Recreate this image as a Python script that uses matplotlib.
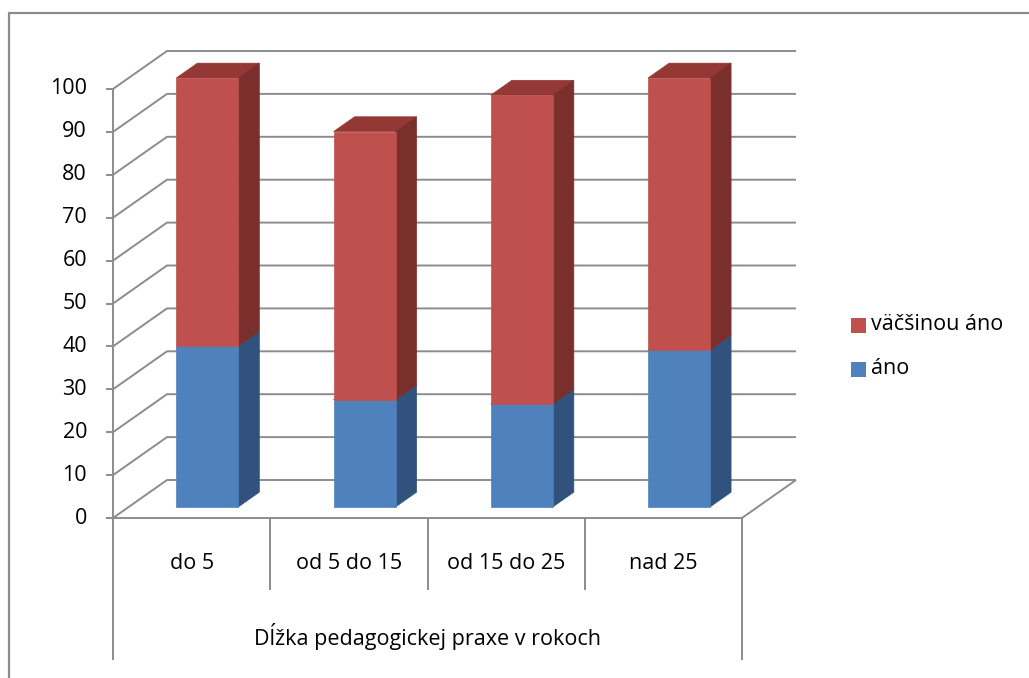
import matplotlib.pyplot as plt
from matplotlib.patches import Polygon
from matplotlib.lines import Line2D

plt.rcParams['font.family'] = ['Open Sans', 'DejaVu Sans']

categories = ['do 5', 'od 5 do 15', 'od 15 do 25', 'nad 25']
ano = [37.5, 25.0, 24.0, 36.6]
vacsinou_ano = [62.5, 62.5, 72.0, 63.4]
series_names = ['áno', 'väčšinou áno']
y_ticks = list(range(0, 101, 10))
axis_title = 'Dĺžka pedagogickej praxe v rokoch'

# face colours: front, side, top
blue = ('#4F81BD', '#31527C', '#3E6797')
red = ('#C0504D', '#7A2F2D', '#943835')
grid_col = '#8C8C8C'
FS = 15.5

# oblique depth offset of the back wall, in data units
DX = 54 / 157.25
DY = 38 / 4.29
Z_FRONT, Z_BACK = 0.29, 0.68
BAR_W = 0.394


def proj(x, y, z):
    return (x + z * DX, y + z * DY)


fig = plt.figure(figsize=(10.29, 6.78), dpi=100)
ax = fig.add_axes([113 / 1029, 160 / 678, 629 / 1029, 429 / 678])
ax.set_xlim(0, len(categories))
ax.set_ylim(0, 100)
ax.axis('off')

n = len(categories)


def line(pts, **kw):
    xs, ys = zip(*pts)
    ax.add_line(Line2D(xs, ys, color=grid_col, lw=1.4, clip_on=False,
                       solid_capstyle='butt', **kw))


# back wall gridlines and side wall diagonals
for v in y_ticks:
    line([proj(0, v, 0), proj(0, v, 1), proj(n, v, 1)], zorder=1)
    line([(-0.045, v), (0, v)], zorder=1)
    ax.text(-0.165, v, str(v), ha='right', va='center', fontsize=FS,
            color='black')

# vertical axis, floor edges
line([(0, 0), (0, 100)], zorder=2)
line([(-0.045, 0), (n, 0), proj(n, 0, 1)], zorder=2)

# category separators below the floor
for i in range(n + 1):
    bottom = -33.1 if i in (0, n) else -16.8
    line([(i, 0), (i, bottom)], zorder=2)

for i, lab in enumerate(categories):
    ax.text(i + 0.5, -10.5, lab, ha='center', va='center', fontsize=FS)
ax.text(n / 2, -27.6, axis_title, ha='center', va='center', fontsize=FS)


def draw_block(xc, y0, y1, cols, zo):
    xl, xr = xc - BAR_W / 2, xc + BAR_W / 2
    front = [proj(xl, y0, Z_FRONT), proj(xr, y0, Z_FRONT),
             proj(xr, y1, Z_FRONT), proj(xl, y1, Z_FRONT)]
    side = [proj(xr, y0, Z_FRONT), proj(xr, y0, Z_BACK),
            proj(xr, y1, Z_BACK), proj(xr, y1, Z_FRONT)]
    top = [proj(xl, y1, Z_FRONT), proj(xr, y1, Z_FRONT),
           proj(xr, y1, Z_BACK), proj(xl, y1, Z_BACK)]
    for pts, c in ((top, cols[2]), (side, cols[1]), (front, cols[0])):
        ax.add_patch(Polygon(pts, closed=True, facecolor=c, edgecolor=c,
                             lw=0.5, clip_on=False, zorder=zo))


for i in range(n):
    xc = i + 0.5
    draw_block(xc, 0, ano[i], blue, 3)
    draw_block(xc, ano[i], ano[i] + vacsinou_ano[i], red, 4)

# legend
for (name, col), ypx in zip(((series_names[1], red[0]), (series_names[0], blue[0])),
                            (325, 369)):
    yf = (678 - ypx) / 678
    fig.patches.append(plt.Rectangle((851 / 1029, yf - 7.5 / 678), 15 / 1029,
                                     15 / 678, transform=fig.transFigure,
                                     facecolor=col, edgecolor='none'))
    fig.text(871 / 1029, yf, name, ha='left', va='center', fontsize=FS)

# outer chart frame
fx, fy = 8.5 / 1029, 665 / 678
fig.add_artist(Line2D([fx, fx, 1], [0, fy, fy], transform=fig.transFigure,
                      color=grid_col, lw=1.6))

fig.savefig('out.png', dpi=100)
